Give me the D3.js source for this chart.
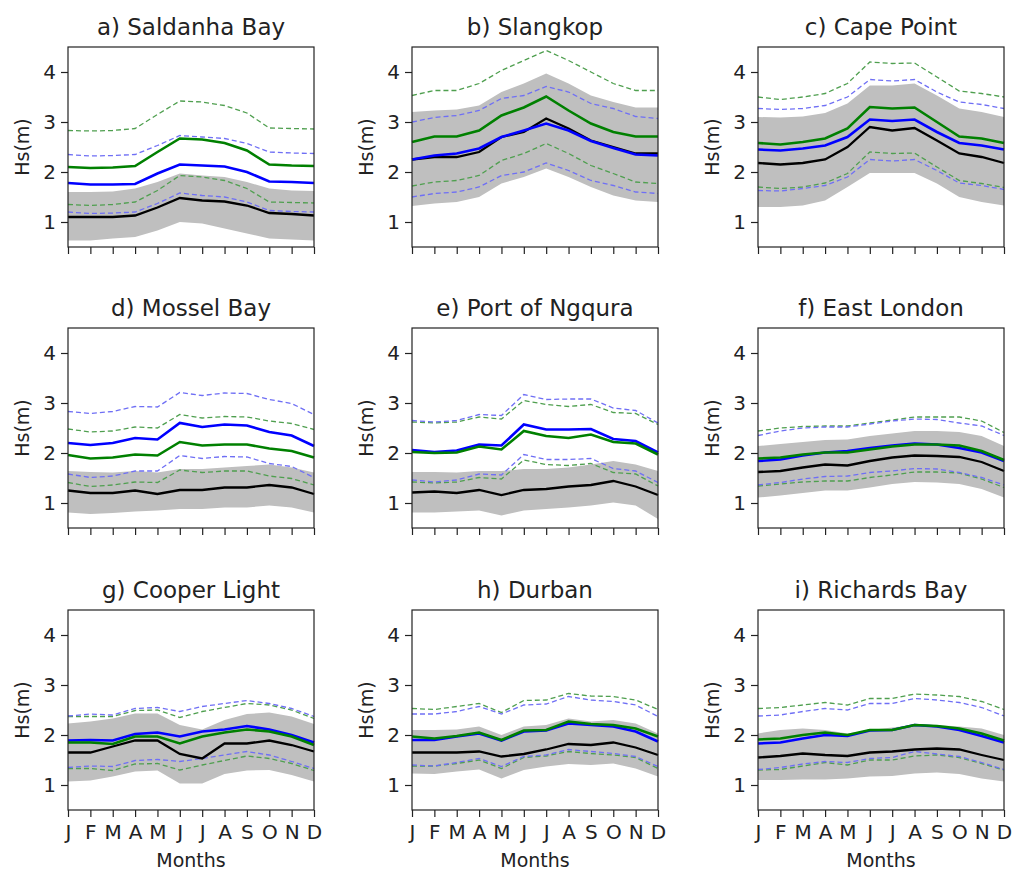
<!DOCTYPE html>
<html>
<head>
<meta charset="utf-8">
<script src="https://cdn.jsdelivr.net/npm/d3@7"></script>
<style>
  body { margin: 0; background: #fff; }
  text { font-family: "DejaVu Sans", sans-serif; fill: #222; }
</style>
</head>
<body>
<div id="root"></div>
<script>
const W = 1012, H = 870

const months = ["J", "F", "M", "A", "M", "J", "J", "A", "S", "O", "N", "D"]
const stations = ["a) Saldanha Bay", "b) Slangkop", "c) Cape Point",
  "d) Mossel Bay", "e) Port of Ngqura", "f) East London",
  "g) Cooper Light", "h) Durban", "i) Richards Bay"]

// grey envelope (low / high)
const bandLow = [
  [0.63, 0.63, 0.67, 0.70, 0.83, 1.00, 0.97, 0.87, 0.77, 0.67, 0.65, 0.63],
  [1.32, 1.37, 1.40, 1.50, 1.77, 1.90, 2.07, 1.90, 1.70, 1.53, 1.43, 1.40],
  [1.30, 1.30, 1.33, 1.43, 1.70, 1.98, 1.98, 1.98, 1.77, 1.50, 1.40, 1.33],
  [0.81, 0.78, 0.80, 0.83, 0.85, 0.88, 0.88, 0.91, 0.91, 0.95, 0.91, 0.81],
  [0.81, 0.81, 0.83, 0.85, 0.75, 0.85, 0.88, 0.91, 0.95, 1.01, 0.95, 0.68],
  [1.11, 1.15, 1.20, 1.25, 1.25, 1.31, 1.38, 1.42, 1.41, 1.38, 1.28, 1.11],
  [1.07, 1.09, 1.17, 1.27, 1.29, 1.03, 1.03, 1.22, 1.29, 1.30, 1.20, 1.07],
  [1.23, 1.22, 1.27, 1.31, 1.13, 1.30, 1.37, 1.42, 1.40, 1.43, 1.33, 1.17],
  [1.10, 1.10, 1.11, 1.11, 1.13, 1.17, 1.18, 1.23, 1.25, 1.22, 1.13, 1.07]
]
const bandHigh = [
  [1.60, 1.60, 1.61, 1.67, 1.80, 1.97, 1.93, 1.90, 1.80, 1.67, 1.63, 1.62],
  [3.20, 3.23, 3.25, 3.33, 3.60, 3.77, 3.97, 3.77, 3.53, 3.40, 3.29, 3.29],
  [3.10, 3.09, 3.11, 3.18, 3.37, 3.73, 3.73, 3.77, 3.53, 3.27, 3.20, 3.10],
  [1.64, 1.62, 1.61, 1.64, 1.61, 1.68, 1.68, 1.71, 1.74, 1.77, 1.71, 1.61],
  [1.62, 1.62, 1.61, 1.64, 1.64, 1.68, 1.68, 1.71, 1.77, 1.84, 1.77, 1.64],
  [2.14, 2.18, 2.22, 2.26, 2.27, 2.34, 2.39, 2.44, 2.44, 2.42, 2.34, 2.14],
  [2.23, 2.27, 2.33, 2.43, 2.43, 2.20, 2.11, 2.30, 2.42, 2.45, 2.37, 2.22],
  [2.10, 2.10, 2.11, 2.17, 2.00, 2.17, 2.20, 2.33, 2.27, 2.30, 2.23, 2.03],
  [2.03, 2.10, 2.13, 2.10, 2.03, 2.10, 2.15, 2.20, 2.20, 2.17, 2.13, 2.00]
]
// black: observed mean
const obsMean = [
  [1.10, 1.10, 1.10, 1.13, 1.29, 1.48, 1.43, 1.41, 1.33, 1.18, 1.16, 1.13],
  [2.25, 2.30, 2.30, 2.40, 2.70, 2.80, 3.07, 2.87, 2.63, 2.50, 2.37, 2.37],
  [2.18, 2.15, 2.18, 2.25, 2.50, 2.90, 2.83, 2.88, 2.63, 2.37, 2.30, 2.18],
  [1.25, 1.20, 1.20, 1.25, 1.18, 1.26, 1.26, 1.31, 1.31, 1.36, 1.31, 1.18],
  [1.21, 1.23, 1.20, 1.26, 1.16, 1.26, 1.28, 1.33, 1.36, 1.44, 1.33, 1.16],
  [1.62, 1.64, 1.71, 1.77, 1.75, 1.84, 1.91, 1.95, 1.94, 1.92, 1.82, 1.64],
  [1.65, 1.65, 1.77, 1.89, 1.89, 1.62, 1.53, 1.83, 1.83, 1.89, 1.80, 1.67],
  [1.65, 1.65, 1.65, 1.67, 1.57, 1.62, 1.71, 1.82, 1.80, 1.85, 1.75, 1.60],
  [1.55, 1.58, 1.63, 1.60, 1.58, 1.65, 1.67, 1.71, 1.73, 1.71, 1.60, 1.50]
]
// blue model: mean and dashed bounds
const blueMean = [
  [1.78, 1.75, 1.75, 1.76, 1.97, 2.15, 2.13, 2.11, 2.00, 1.81, 1.80, 1.78],
  [2.25, 2.33, 2.37, 2.47, 2.70, 2.83, 2.97, 2.83, 2.62, 2.48, 2.35, 2.33],
  [2.45, 2.43, 2.47, 2.53, 2.70, 3.05, 3.02, 3.05, 2.80, 2.58, 2.53, 2.45],
  [2.20, 2.16, 2.20, 2.30, 2.27, 2.60, 2.52, 2.57, 2.55, 2.42, 2.35, 2.14],
  [2.06, 2.02, 2.05, 2.17, 2.15, 2.57, 2.47, 2.47, 2.48, 2.28, 2.24, 2.01],
  [1.84, 1.87, 1.95, 2.01, 2.04, 2.10, 2.15, 2.19, 2.17, 2.10, 2.01, 1.84],
  [1.89, 1.90, 1.89, 2.02, 2.05, 1.97, 2.07, 2.11, 2.18, 2.11, 2.00, 1.85],
  [1.90, 1.90, 1.97, 2.03, 1.89, 2.07, 2.09, 2.23, 2.20, 2.17, 2.07, 1.87],
  [1.83, 1.85, 1.93, 2.00, 1.98, 2.09, 2.10, 2.20, 2.17, 2.10, 1.98, 1.85]
]
const blueLow = [
  [1.20, 1.17, 1.18, 1.20, 1.37, 1.58, 1.53, 1.50, 1.40, 1.23, 1.21, 1.20],
  [1.50, 1.57, 1.60, 1.70, 1.93, 2.00, 2.18, 2.03, 1.83, 1.73, 1.60, 1.57],
  [1.63, 1.62, 1.67, 1.73, 1.90, 2.25, 2.22, 2.25, 2.03, 1.78, 1.73, 1.65],
  [1.58, 1.51, 1.54, 1.64, 1.64, 1.95, 1.89, 1.93, 1.92, 1.79, 1.73, 1.51],
  [1.46, 1.42, 1.46, 1.58, 1.56, 1.97, 1.87, 1.87, 1.89, 1.69, 1.64, 1.41],
  [1.36, 1.41, 1.48, 1.53, 1.54, 1.61, 1.64, 1.69, 1.68, 1.61, 1.51, 1.36],
  [1.35, 1.38, 1.37, 1.49, 1.51, 1.47, 1.53, 1.60, 1.67, 1.60, 1.47, 1.33],
  [1.40, 1.38, 1.45, 1.53, 1.37, 1.57, 1.60, 1.71, 1.67, 1.63, 1.57, 1.37],
  [1.31, 1.35, 1.42, 1.47, 1.45, 1.53, 1.55, 1.67, 1.62, 1.57, 1.45, 1.31]
]
const blueHigh = [
  [2.35, 2.32, 2.33, 2.35, 2.53, 2.73, 2.70, 2.67, 2.57, 2.40, 2.38, 2.37],
  [3.00, 3.09, 3.13, 3.23, 3.47, 3.53, 3.71, 3.60, 3.37, 3.27, 3.11, 3.07],
  [3.27, 3.25, 3.27, 3.33, 3.50, 3.85, 3.82, 3.85, 3.60, 3.40, 3.35, 3.27],
  [2.83, 2.79, 2.83, 2.93, 2.92, 3.21, 3.15, 3.20, 3.19, 3.07, 2.99, 2.77],
  [2.65, 2.62, 2.65, 2.77, 2.75, 3.17, 3.07, 3.08, 3.08, 2.90, 2.85, 2.60],
  [2.35, 2.44, 2.50, 2.52, 2.52, 2.58, 2.64, 2.68, 2.67, 2.60, 2.54, 2.35],
  [2.38, 2.42, 2.40, 2.53, 2.55, 2.47, 2.57, 2.63, 2.69, 2.63, 2.53, 2.37],
  [2.42, 2.42, 2.47, 2.57, 2.42, 2.60, 2.62, 2.77, 2.70, 2.67, 2.60, 2.37],
  [2.38, 2.40, 2.47, 2.53, 2.50, 2.63, 2.63, 2.73, 2.70, 2.65, 2.55, 2.38]
]
// green model: mean and dashed bounds
const greenMean = [
  [2.10, 2.08, 2.09, 2.12, 2.40, 2.67, 2.65, 2.58, 2.43, 2.15, 2.13, 2.12],
  [2.60, 2.71, 2.71, 2.83, 3.13, 3.29, 3.51, 3.23, 2.97, 2.80, 2.71, 2.71],
  [2.58, 2.55, 2.60, 2.67, 2.87, 3.30, 3.27, 3.29, 3.00, 2.71, 2.67, 2.58],
  [1.96, 1.89, 1.91, 1.97, 1.95, 2.22, 2.15, 2.17, 2.17, 2.09, 2.04, 1.91],
  [2.02, 2.00, 2.01, 2.13, 2.07, 2.44, 2.34, 2.30, 2.37, 2.22, 2.19, 1.97],
  [1.89, 1.91, 1.97, 2.01, 2.01, 2.07, 2.13, 2.17, 2.17, 2.15, 2.04, 1.86],
  [1.85, 1.85, 1.82, 1.97, 1.97, 1.83, 1.97, 2.05, 2.11, 2.07, 1.97, 1.80],
  [1.97, 1.93, 1.98, 2.05, 1.90, 2.09, 2.10, 2.27, 2.22, 2.20, 2.13, 1.97],
  [1.91, 1.93, 2.00, 2.05, 2.00, 2.10, 2.10, 2.20, 2.18, 2.13, 2.03, 1.89]
]
const greenLow = [
  [1.35, 1.33, 1.35, 1.40, 1.63, 1.93, 1.90, 1.83, 1.67, 1.40, 1.39, 1.38],
  [1.72, 1.80, 1.83, 1.93, 2.23, 2.37, 2.57, 2.37, 2.13, 1.97, 1.80, 1.77],
  [1.70, 1.67, 1.70, 1.78, 1.97, 2.40, 2.37, 2.38, 2.10, 1.83, 1.77, 1.69],
  [1.41, 1.33, 1.36, 1.42, 1.41, 1.66, 1.61, 1.64, 1.64, 1.54, 1.49, 1.36],
  [1.42, 1.40, 1.42, 1.51, 1.48, 1.86, 1.77, 1.75, 1.79, 1.61, 1.58, 1.34],
  [1.34, 1.38, 1.42, 1.44, 1.44, 1.51, 1.56, 1.62, 1.62, 1.60, 1.48, 1.31],
  [1.33, 1.33, 1.29, 1.42, 1.43, 1.30, 1.40, 1.49, 1.58, 1.53, 1.43, 1.29],
  [1.38, 1.38, 1.43, 1.50, 1.33, 1.55, 1.58, 1.67, 1.63, 1.60, 1.55, 1.33],
  [1.30, 1.31, 1.38, 1.45, 1.40, 1.50, 1.50, 1.58, 1.60, 1.55, 1.43, 1.30]
]
const greenHigh = [
  [2.83, 2.82, 2.83, 2.87, 3.15, 3.42, 3.40, 3.33, 3.18, 2.88, 2.87, 2.86],
  [3.53, 3.63, 3.63, 3.77, 4.03, 4.23, 4.43, 4.23, 4.00, 3.77, 3.63, 3.63],
  [3.50, 3.45, 3.50, 3.57, 3.77, 4.20, 4.17, 4.18, 3.90, 3.62, 3.57, 3.50],
  [2.48, 2.42, 2.44, 2.52, 2.50, 2.77, 2.70, 2.73, 2.72, 2.64, 2.59, 2.47],
  [2.62, 2.60, 2.62, 2.72, 2.68, 3.05, 2.97, 2.93, 2.97, 2.81, 2.79, 2.57],
  [2.44, 2.50, 2.53, 2.54, 2.54, 2.60, 2.66, 2.72, 2.72, 2.72, 2.64, 2.41],
  [2.37, 2.37, 2.37, 2.49, 2.50, 2.35, 2.47, 2.55, 2.63, 2.60, 2.50, 2.33],
  [2.53, 2.51, 2.57, 2.63, 2.45, 2.69, 2.70, 2.83, 2.78, 2.77, 2.70, 2.51],
  [2.53, 2.55, 2.60, 2.65, 2.60, 2.73, 2.73, 2.82, 2.80, 2.77, 2.67, 2.51]
]

const colLeft = [68, 412, 758]
const rowTop = [47, 328, 610]
const pw = 246, ph = 200

const svg = d3.select("#root").append("svg")
  .attr("width", W)
  .attr("height", H)

const x = d3.scaleLinear().domain([0, 11]).range([0, pw])
const y = d3.scaleLinear().domain([0.5, 4.5]).range([ph, 0])

const line = d3.line().x((d, i) => x(i)).y(d => y(d))
const area = d3.area()
  .x((d, i) => x(i))
  .y0(d => y(d[0]))
  .y1(d => y(d[1]))

stations.forEach((name, k) => {
  const r = Math.floor(k / 3), c = k % 3
  const g = svg.append("g")
    .attr("transform", `translate(${colLeft[c]},${rowTop[r]})`)

  g.append("path")
    .datum(bandLow[k].map((v, i) => [v, bandHigh[k][i]]))
    .attr("d", area)
    .attr("fill", "#bfbfbf")

  const dashed = [
    [greenHigh[k], "#4f9f4f"], [greenLow[k], "#4f9f4f"],
    [blueHigh[k], "#6f6ff5"], [blueLow[k], "#6f6ff5"]
  ]
  dashed.forEach(([vals, col]) => {
    g.append("path").datum(vals)
      .attr("d", line)
      .attr("fill", "none")
      .attr("stroke", col)
      .attr("stroke-width", 1.3)
      .attr("stroke-dasharray", "5,3")
  })

  g.append("path").datum(obsMean[k])
    .attr("d", line).attr("fill", "none")
    .attr("stroke", "black").attr("stroke-width", 2.3)
  g.append("path").datum(blueMean[k])
    .attr("d", line).attr("fill", "none")
    .attr("stroke", "blue").attr("stroke-width", 2.6)
  g.append("path").datum(greenMean[k])
    .attr("d", line).attr("fill", "none")
    .attr("stroke", "green").attr("stroke-width", 2.6)

  // axes
  const xAxis = d3.axisBottom(x).tickValues(d3.range(12))
    .tickSize(7).tickPadding(8)
    .tickFormat(i => r === 2 ? months[i] : "")
  const gx = g.append("g").attr("transform", `translate(0,${ph})`).call(xAxis)
  const gy = g.append("g").call(d3.axisLeft(y).tickValues([1, 2, 3, 4])
    .tickSize(7).tickPadding(5).tickFormat(d3.format("d")))
  ;[gx, gy].forEach(a => {
    a.select(".domain").remove()
    a.selectAll("line").attr("stroke", "#222").attr("stroke-width", 1.2)
    a.selectAll("text").attr("font-size", 20).attr("fill", "#222")
      .style("font-family", "DejaVu Sans, sans-serif")
  })

  g.append("rect")
    .attr("width", pw).attr("height", ph)
    .attr("fill", "none").attr("stroke", "#222").attr("stroke-width", 1.2)

  g.append("text")
    .attr("x", pw / 2).attr("y", -12)
    .attr("text-anchor", "middle")
    .attr("font-size", 23)
    .text(name)

  g.append("text")
    .attr("transform", `translate(-39,${ph / 2}) rotate(-90)`)
    .attr("text-anchor", "middle")
    .attr("font-size", 19)
    .text("Hs(m)")

  if (r === 2) {
    g.append("text")
      .attr("x", pw / 2).attr("y", ph + 57)
      .attr("text-anchor", "middle")
      .attr("font-size", 19)
      .text("Months")
  }
})
</script>
</body>
</html>
